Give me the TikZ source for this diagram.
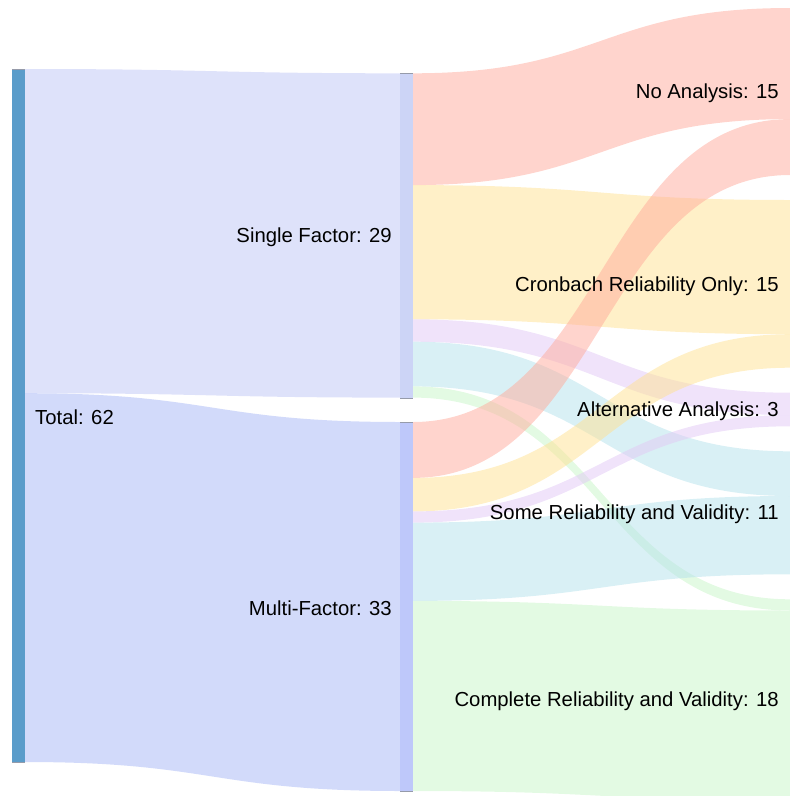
\documentclass[tikz,border=0pt]{standalone}
\usepackage{fontspec}
\setmainfont{Liberation Sans}
\definecolor{totalc}{RGB}{90,156,202}
\definecolor{singlec}{RGB}{204,212,246}
\definecolor{multic}{RGB}{190,200,250}
\definecolor{edgec}{RGB}{150,155,170}
\definecolor{lsingle}{RGB}{190,198,245}
\definecolor{lmulti}{RGB}{165,182,245}
\definecolor{lpink}{RGB}{255,170,155}
\definecolor{lyellow}{RGB}{255,225,145}
\definecolor{llav}{RGB}{225,200,245}
\definecolor{lcyan}{RGB}{180,225,235}
\definecolor{lgreen}{RGB}{200,245,200}
\tikzset{
  band/.style={fill=#1, fill opacity=0.5},
  nodebar/.style={fill=#1, draw=none},
  lbl/.style={font=\fontsize{20.3}{24}\selectfont, inner sep=0pt, text=black}
}
\newcommand{\flowband}[7]{%
  \fill[band=#7] (#1,#3) .. controls ({(#1+#2)/2},#3) and ({(#1+#2)/2},#5) .. (#2,#5)
    -- (#2,#6) .. controls ({(#1+#2)/2},#6) and ({(#1+#2)/2},#4) .. (#1,#4) -- cycle;}
\begin{document}
\begin{tikzpicture}[x=1pt,y=-1pt]
\useasboundingbox (0,0) rectangle (790,796);
% flows from Total
\flowband{25}{400}{69}{393.2}{73.3}{397.6}{lsingle}
\flowband{25}{400}{393.2}{762}{422}{791}{lmulti}
% flows from Single Factor
\flowband{413}{790}{73.3}{185.1}{8}{119.1}{lpink}
\flowband{413}{790}{185.1}{319.3}{200}{334.2}{lyellow}
\flowband{413}{790}{319.3}{341.7}{392.7}{415.1}{llav}
\flowband{413}{790}{341.7}{386.4}{451.3}{496}{lcyan}
\flowband{413}{790}{386.4}{397.6}{599.3}{610.5}{lgreen}
% flows from Multi-Factor
\flowband{413}{790}{422}{477.9}{119.1}{175}{lpink}
\flowband{413}{790}{477.9}{511.4}{334.2}{367.7}{lyellow}
\flowband{413}{790}{511.4}{522.6}{415.1}{426.3}{llav}
\flowband{413}{790}{522.6}{600.9}{496}{574.3}{lcyan}
\flowband{413}{790}{600.9}{791}{610.5}{800.6}{lgreen}
% node bars
\node[nodebar=totalc, minimum width=13pt, minimum height=693pt, inner sep=0pt, anchor=north west] (total) at (12,69) {};
\node[nodebar=singlec, minimum width=13pt, minimum height=324.3pt, inner sep=0pt, anchor=north west] (single) at (400,73.3) {};
\node[nodebar=multic, minimum width=13pt, minimum height=369pt, inner sep=0pt, anchor=north west] (multi) at (400,422) {};
\draw[edgec, line width=0.8pt] (total.north west) -- (total.north east);
\draw[edgec, line width=0.8pt] (total.south west) -- (total.south east);
\draw[edgec, line width=0.8pt] (single.north west) -- (single.north east);
\draw[edgec, line width=0.8pt] (single.south west) -- (single.south east);
\draw[edgec, line width=0.8pt] (multi.north west) -- (multi.north east);
\draw[edgec, line width=0.8pt] (multi.south west) -- (multi.south east);
% labels
\node[lbl, anchor=west] (ltotal) at (35,417) {Total: 62};
\node[lbl, anchor=east] (lsing) at (392,237) {Single Factor: 29};
\node[lbl, anchor=east] (lmult) at (392,608) {Multi-Factor: 33};
\node[lbl, anchor=east] (lno) at (779,93.5) {No Analysis: 15};
\node[lbl, anchor=east] (lcron) at (779,286) {Cronbach Reliability Only: 15};
\node[lbl, anchor=east] (lalt) at (779,411) {Alternative Analysis: 3};
\node[lbl, anchor=east] (lsome) at (779,514) {Some Reliability and Validity: 11};
\node[lbl, anchor=east] (lcomp) at (779,701.5) {Complete Reliability and Validity: 18};
\end{tikzpicture}
\end{document}
